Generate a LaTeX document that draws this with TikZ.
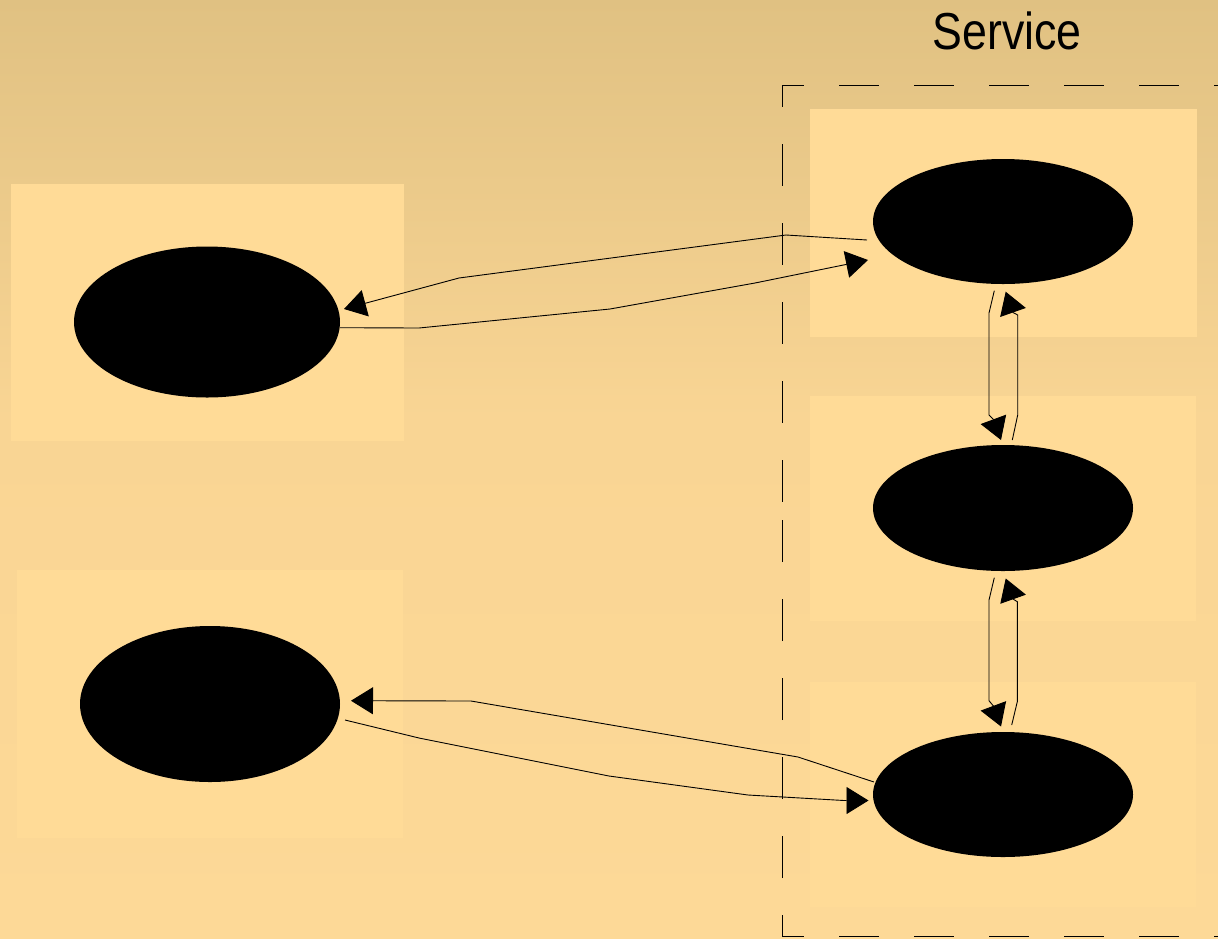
\documentclass[tikz,border=0pt]{standalone}
\usepackage{fontspec}
\setmainfont{Liberation Sans}
\usetikzlibrary{arrows.meta,shapes.geometric}
\definecolor{bgtop}{HTML}{E0C182}
\definecolor{bgmid}{HTML}{F9D594}
\definecolor{bgbot}{HTML}{FDD997}
\definecolor{panel}{HTML}{FFDB97}
\tikzset{
  panelbox/.style={fill=panel, draw=none},
  blob/.style={ellipse, fill=black, draw=none, inner sep=0pt},
  conn/.style={draw=black, line width=0.9pt, -{Triangle[length=22pt,width=27pt]}},
  dashbox/.style={draw=black, line width=1pt, dash pattern=on 42pt off 37pt},
}
\begin{document}
\begin{tikzpicture}[x=1pt,y=-1pt]
\clip (0,0) rectangle (1218,938);
% background
\shade[top color=bgtop, bottom color=bgmid] (0,0) rectangle (1218,420);
\shade[top color=bgmid, bottom color=bgbot] (0,419) rectangle (1218,938);
% panels
\fill[panelbox] (11,184) rectangle (404,441);
\fill[panelbox] (17,570) rectangle (403,838);
\fill[panelbox] (810,109) rectangle (1197,337);
\fill[panelbox] (810,396) rectangle (1196,621);
\fill[panelbox] (810,682) rectangle (1196,907);
% dashed service box
\draw[dashbox, dash phase=20pt] (782,85) -- (782,511);
\draw[dashbox, dash phase=20pt] (782,937) -- (782,511);
\draw[dashbox, dash pattern=on 40pt off 35pt, dash phase=18pt] (782,85) -- (1240,85);
\draw[dashbox, dash pattern=on 40pt off 35pt, dash phase=18pt] (782,936.5) -- (1240,936.5);
\node[font=\fontsize{52}{60}\selectfont] (title) at (1007,31) {\scalebox{0.86}[1]{Service}};
% nodes
\node[blob, minimum width=266pt, minimum height=151pt] (lt) at (207,322) {};
\node[blob, minimum width=260pt, minimum height=156pt] (lb) at (210,704) {};
\node[blob, minimum width=260pt, minimum height=125pt] (rt) at (1003,221.5) {};
\node[blob, minimum width=260pt, minimum height=126pt] (rm) at (1003,508) {};
\node[blob, minimum width=260pt, minimum height=125pt] (rb) at (1003,794.5) {};
% connectors between left and right
\draw[conn] ([shift={(-136,18.5)}]rt.center) -- (786,235) -- (459,278) -- ([shift={(137,-13)}]lt.center);
\draw[conn] ([shift={(133,5.7)}]lt.center) -- (419,328) -- (610,309) -- (755,283) -- ([shift={(-135,38.5)}]rt.center);
\draw[conn] ([shift={(-129,-12.5)}]rb.center) -- (798,757) -- (471,701) -- ([shift={(141,-3.3)}]lb.center);
\draw[conn] ([shift={(135,16)}]lb.center) -- (419,738) -- (609,776) -- (748,795) -- (844,800.5) -- ([shift={(-134.5,6)}]rb.center);
% vertical connectors
\draw[conn] ([shift={(-8.7,69.2)}]rt.center) -- (989,313) -- (989,415) -- (993.4,419.4) -- ([shift={(-2,-68)}]rm.center);
\draw[conn] ([shift={(9.3,-68)}]rm.center) -- (1017.7,415) -- (1017.7,315) -- (1013,312.5) -- ([shift={(2.7,70.2)}]rt.center);
\draw[conn] ([shift={(-8.7,69.7)}]rm.center) -- (989,600) -- (989,700.7) -- (993.4,706) -- ([shift={(-2,-68)}]rb.center);
\draw[conn] ([shift={(8.7,-69.5)}]rb.center) -- (1017.3,701.7) -- (1017.3,601.7) -- (1013,599) -- ([shift={(2.7,70.5)}]rm.center);
\end{tikzpicture}
\end{document}
